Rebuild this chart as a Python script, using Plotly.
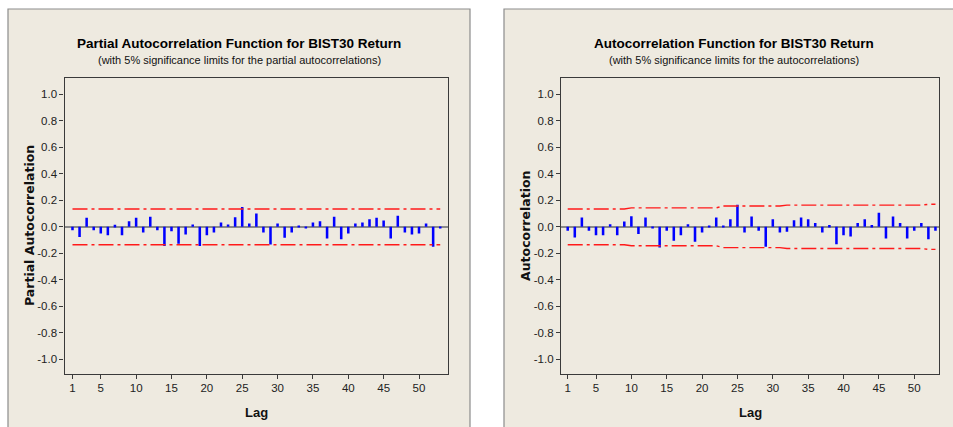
import plotly.graph_objects as go

W, H = 953, 427

lags = list(range(1, 54))

pacf = [-0.025, -0.076, 0.068, -0.025, -0.050, -0.063, 0.015, -0.063, 0.043, 0.068, -0.043, 0.076, -0.025,
        -0.145, -0.033, -0.128, -0.058, 0.018, -0.145, -0.063, -0.043, 0.033, 0.018, 0.073, 0.150, 0.025,
        0.100, -0.043, -0.134, 0.025, -0.083, -0.043, 0.008, -0.013, 0.033, 0.043, -0.088, 0.076, -0.093,
        -0.050, 0.025, 0.033, 0.058, 0.068, 0.048, -0.088, 0.083, -0.043, -0.058, -0.050, 0.025, -0.150, -0.013]

acf = [-0.030, -0.080, 0.070, -0.030, -0.063, -0.063, 0.020, -0.063, 0.040, 0.080, -0.055, 0.070, -0.013,
       -0.156, -0.030, -0.106, -0.063, 0.020, -0.113, -0.043, 0.005, 0.070, 0.003, 0.058, 0.166, -0.043,
       0.078, -0.030, -0.150, 0.058, -0.043, -0.038, 0.050, 0.070, 0.058, 0.028, -0.043, 0.013, -0.131,
       -0.063, -0.073, 0.028, 0.058, 0.013, 0.106, -0.088, 0.078, 0.028, -0.088, -0.030, 0.028, -0.093, -0.030]

pacf_limit = 0.135
acf_limit = [0.135] * 9 + [0.143] * 13 + [0.157] * 9 + [0.164] * 20 + [0.170] * 2

x_ticks = [1, 5, 10, 15, 20, 25, 30, 35, 40, 45, 50]
y_ticks = [-1.0, -0.8, -0.6, -0.4, -0.2, 0.0, 0.2, 0.4, 0.6, 0.8, 1.0]

titles = ["Partial Autocorrelation Function for BIST30 Return",
          "Autocorrelation Function for BIST30 Return"]
subtitles = ["(with 5% significance limits for the partial autocorrelations)",
             "(with 5% significance limits for the autocorrelations)"]
ytitles = ["Partial Autocorrelation", "Autocorrelation"]
xtitle = "Lag"

NARROW = "Liberation Sans, Arial, sans-serif"
WIDEB = "DejaVu Sans, Verdana, sans-serif"
RED_DASH = "15px,4px,3px,4px"


def px(x):
    return x / W


def py(y):
    return 1 - y / H


fig = go.Figure()

panels = [
    dict(vals=pacf, upper=[pacf_limit] * len(lags), xa="x", ya="y",
         dom_x=[px(64.5), px(448)], xr=[-0.13, 54.1], box=(8, 470), cx=239, ytx=29),
    dict(vals=acf, upper=acf_limit, xa="x2", ya="y2",
         dom_x=[px(561), px(939)], xr=[0.05, 53.5], box=(504, 964), cx=734, ytx=525),
]

shapes = []
annotations = []
for i, p in enumerate(panels):
    fig.add_trace(go.Bar(x=lags, y=p["vals"], width=0.36, marker=dict(color="#0000FF", line=dict(width=0)),
                         xaxis=p["xa"], yaxis=p["ya"], showlegend=False))
    fig.add_trace(go.Scatter(x=lags, y=p["upper"], mode="lines",
                             line=dict(color="#FF1A1A", width=1.4, dash=RED_DASH),
                             xaxis=p["xa"], yaxis=p["ya"], showlegend=False))
    fig.add_trace(go.Scatter(x=lags, y=[-v for v in p["upper"]], mode="lines",
                             line=dict(color="#FF1A1A", width=1.4, dash=RED_DASH),
                             xaxis=p["xa"], yaxis=p["ya"], showlegend=False))
    x0, x1 = p["box"]
    shapes.append(dict(type="rect", xref="paper", yref="paper", x0=px(x0), x1=px(x1),
                       y0=py(440), y1=py(9), fillcolor="#EEEAE0",
                       line=dict(color="#8C8C8C", width=1.2), layer="below"))
    annotations.append(dict(text="<b>" + titles[i] + "</b>", xref="paper", yref="paper",
                            x=px(p["cx"]), y=py(43), xanchor="center", yanchor="middle",
                            showarrow=False, font=dict(family=NARROW, size=13.5, color="#000")))
    annotations.append(dict(text=subtitles[i], xref="paper", yref="paper",
                            x=px(p["cx"]), y=py(60), xanchor="center", yanchor="middle",
                            showarrow=False, font=dict(family=NARROW, size=11, color="#111")))
    annotations.append(dict(text="<b>" + ytitles[i] + "</b>", xref="paper", yref="paper",
                            x=px(p["ytx"]), y=py(226), xanchor="center", yanchor="middle",
                            textangle=-90, showarrow=False,
                            font=dict(family=WIDEB, size=12.5, color="#111")))
    annotations.append(dict(text="<b>" + xtitle + "</b>", xref="paper", yref="paper",
                            x=(p["dom_x"][0] + p["dom_x"][1]) / 2, y=py(412), xanchor="center",
                            yanchor="middle", showarrow=False,
                            font=dict(family=NARROW, size=13, color="#111")))

axis_common = dict(showgrid=False, showline=True, mirror=True, linecolor="#3A3A3A", linewidth=1.3,
                   ticks="outside", ticklen=4, tickwidth=1, tickcolor="#3A3A3A",
                   tickfont=dict(family=NARROW, size=11.5, color="#222"))

ydom = [py(373.5), py(77.5)]
for i, p in enumerate(panels):
    sfx = "" if i == 0 else str(i + 1)
    fig.layout["xaxis" + sfx] = dict(axis_common, domain=p["dom_x"], range=p["xr"],
                                     tickmode="array", tickvals=x_ticks, zeroline=False,
                                     anchor="y" + sfx)
    fig.layout["yaxis" + sfx] = dict(axis_common, domain=ydom, range=[-1.108, 1.128],
                                     tickmode="array", tickvals=y_ticks,
                                     ticktext=["%.1f" % v for v in y_ticks],
                                     zeroline=True, zerolinecolor="#8A8A8A", zerolinewidth=2,
                                     anchor="x" + sfx)

fig.update_layout(width=W, height=H, margin=dict(l=0, r=0, t=0, b=0),
                  paper_bgcolor="white", plot_bgcolor="white",
                  shapes=shapes, annotations=annotations, showlegend=False, barmode="overlay")

fig.write_html("out.html", config={"displayModeBar": False},
               post_script="document.body.style.margin='0px';")
